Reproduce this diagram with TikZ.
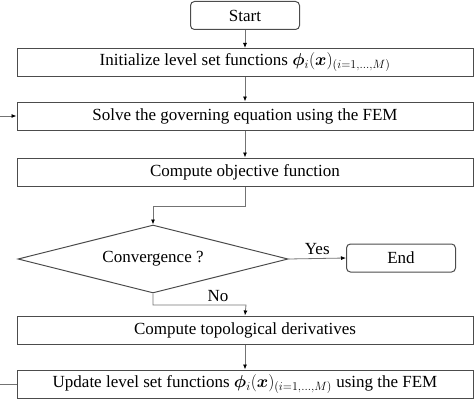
\documentclass[tikz,border=0pt]{standalone}
\usepackage{fontspec}
\setmainfont{Liberation Serif}
\usepackage{amsmath,bm}
\usetikzlibrary{shapes.geometric,arrows.meta}

\tikzset{
  stepbox/.style={draw=black!70, line width=1pt, minimum width=456pt, minimum height=28pt, inner sep=0pt},
  termbox/.style={draw=black!70, line width=1pt, rounded corners=4pt, minimum width=109pt, minimum height=28pt, inner sep=0pt},
  conn/.style={draw=black!55, line width=0.8pt, -{Latex[length=5pt,width=4pt,color=black]}},
}

\begin{document}
\begin{tikzpicture}[x=1pt, y=-1pt, font=\fontsize{17}{20}\selectfont]
\useasboundingbox (0,0) rectangle (474,404);

\node[termbox] (I)   at (245,15.5) {Start};
\node[stepbox] (II)  at (245,62.5) {Initialize level set functions $\bm{\phi}_i(\bm{x})_{(i=1,\ldots,M)}$};
\node[stepbox] (III) at (245,116)  {Solve the governing equation using the FEM};
\node[stepbox] (IV)  at (245,172)  {Compute objective function};
\node[diamond, draw=black!70, line width=1pt, minimum width=270pt, minimum height=68pt, inner sep=0pt, aspect=4] (V) at (153,259) {Convergence ?};
\node[termbox] (VI)  at (401,258)  {End};
\node[stepbox] (VII) at (245,330)  {Compute topological derivatives};
\node[stepbox] (VIII) at (245,384) {Update level set functions $\bm{\phi}_i(\bm{x})_{(i=1,\ldots,M)}$ using the FEM};

\path % bends
 (153,206) coordinate (objturn)
 (246,305) coordinate (noturn)
 (-3,250)  coordinate (loopleft)
 ;

\draw[conn] (I) -- (II);
\draw[conn] (II) -- (III);
\draw[conn] (III) -- (IV);
\draw[conn] (IV.south) |- (objturn) -- (V.north);
\draw[conn] (V.east) -- node[midway, above, inner sep=3pt] {Yes} (VI.west);
\draw[conn] (V.south) |- node[pos=0.85, above, inner sep=3pt] {No} (noturn) -- (VII.north);
\draw[conn] (VII) -- (VIII);
\draw[conn] (VIII.west) -| (loopleft) |- (III.west);

\end{tikzpicture}
\end{document}
